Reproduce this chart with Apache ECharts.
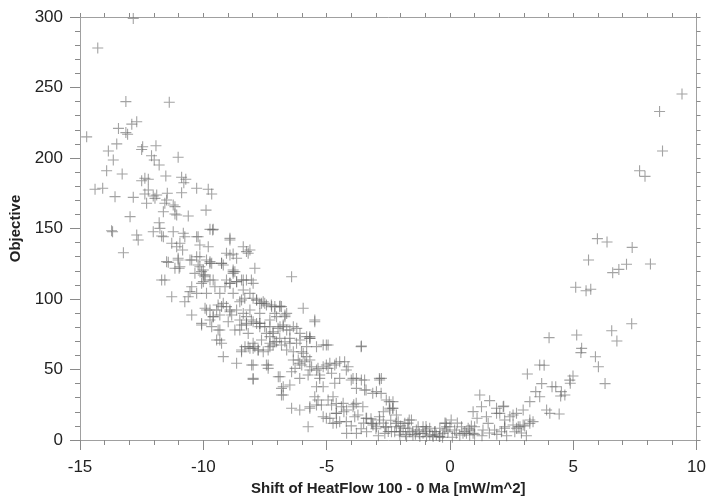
<!DOCTYPE html>
<html>
<head>
<meta charset="utf-8">
<script src="https://cdn.jsdelivr.net/npm/echarts@6/dist/echarts.min.js"></script>
<style>
html, body { margin: 0; padding: 0; background: #fff; }
#chart { width: 709px; height: 501px; }
</style>
</head>
<body>
<div id="chart"></div>
<script>
// axis ranges
var xMin = -15, xMax = 10, xStep = 5;
var yMin = 0, yMax = 300, yStep = 50;

// upper left part of the cloud
var upperLeft = [
    [-12.84, 299], [-14.28, 278], [-13.14, 240], [-11.38, 239.5], [-14.73, 215], [-12.7, 225.7],
    [-12.9, 224], [-13.44, 221], [-13.14, 218], [-13.07, 216.8], [-13.51, 210], [-13.85, 205],
    [-13.65, 198.6], [-12.46, 208], [-12.5, 206], [-11.92, 208.7], [-12.1, 201.6], [-11.99, 198.6],
    [-11.79, 195], [-11.02, 200.5], [-13.92, 191], [-13.29, 188.7], [-12.37, 185.6], [-12.5, 183.9],
    [-12.23, 184.9], [-11.52, 187.2], [-10.88, 186.3], [-10.71, 184.9], [-10.79, 182.5], [-14.39, 177.8],
    [-14.08, 178.5], [-13.58, 172.6], [-12.84, 172.1], [-12.37, 174.5], [-12.23, 177.3], [-12.03, 173],
    [-11.89, 173.8], [-11.96, 171.4], [-12.30, 167.9], [-11.46, 175], [-11.49, 170.2], [-10.88, 175.4],
    [-10.27, 178.5], [-9.80, 177.8], [-9.66, 174.5], [-12.97, 158.4], [-11.79, 154.1], [-11.62, 161.9],
    [-11.15, 165.5], [-11.08, 159.6], [-10.61, 158.9], [-9.89, 163], [-13.68, 147.7], [-12.7, 145.4],
    [-12.03, 147.7], [-11.69, 144.7], [-11.22, 147.7], [-10.81, 146.6], [-10.21, 144.2], [-9.73, 149.4],
    [-9.62, 148.9], [-8.92, 143], [-13.72, 148.4], [-12.64, 141.8], [-13.24, 132.8], [-11.76, 150.1],
    [-11.62, 144.2], [-11.28, 139.5], [-10.95, 139.5], [-10.75, 144.2], [-11.08, 137.1], [-10.84, 134.8],
    [-10.27, 144.2], [-10.14, 138.3], [-9.80, 137.1], [-9.60, 149.4], [-8.92, 141.8], [-9.06, 132.4],
    [-8.79, 131.9], [-8.65, 128.9], [-11.42, 126], [-11.02, 128.9], [-10.98, 121.8], [-10.54, 127.7],
    [-10.27, 130], [-10.14, 122.9], [-9.87, 127.7], [-9.66, 125.3], [-10.34, 118.2], [-10.0, 117],
    [-9.26, 125.3], [-8.79, 119.4], [-11.56, 167.9], [-11.22, 166.7], [-11.15, 160.3]
];

// central band, falling towards the minimum
var band = [
    [-8.38, 137.1], [-8.11, 134.8], [-8.18, 132.4], [-11.49, 126.5], [-11.02, 127.7], [-10.95, 122.9],
    [-11.15, 121.8], [-10.47, 127.7], [-10.21, 124.1], [-9.73, 126.5], [-9.26, 125.3], [-8.79, 120.6],
    [-8.72, 119.4], [-7.91, 121.8], [-11.69, 113.5], [-11.56, 113.5], [-10.07, 119.4], [-9.93, 117],
    [-10.0, 112.3], [-9.73, 113.5], [-10.47, 108.7], [-10.27, 104], [-10.54, 105.2], [-10.61, 101.6],
    [-9.06, 113.5], [-8.92, 111.1], [-8.65, 112.3], [-8.45, 113.5], [-8.25, 113.5], [-8.05, 113.5],
    [-6.42, 115.8], [-11.28, 101.6], [-10.75, 98.1], [-10.47, 88.7], [-10.07, 81.6], [-9.93, 93.4],
    [-9.73, 92.2], [-9.60, 87.5], [-9.73, 85.1], [-9.40, 95.7], [-9.26, 94.6], [-9.06, 94.6],
    [-8.92, 92.2], [-8.85, 88.7], [-8.52, 98.1], [-8.32, 100.5], [-7.98, 100.5], [-7.84, 99.3],
    [-7.71, 96.9], [-7.51, 96.9], [-7.10, 94.6], [-6.89, 95], [-6.62, 89.8], [-5.95, 93.4],
    [-5.48, 85.1], [-9.66, 80.4], [-9.40, 78], [-9.33, 70.9], [-9.26, 68.6], [-8.52, 85.1],
    [-8.45, 81.6], [-8.25, 81.6], [-8.05, 85.1], [-7.84, 82.7], [-7.71, 80.4], [-7.51, 80.4],
    [-7.44, 75.6], [-7.30, 73.3], [-7.17, 76.8], [-6.97, 79.2], [-6.89, 80.4], [-6.76, 80.4],
    [-6.62, 78], [-6.35, 80.4], [-6.21, 79.2], [-6.08, 75.6], [-5.68, 73.3], [-5.41, 66.2],
    [-8.18, 66.2], [-7.98, 68.6], [-7.64, 70.9], [-7.30, 68.6], [-7.03, 69.7], [-6.83, 67.4],
    [-6.49, 68.6], [-6.08, 70.9], [-5.81, 66.2], [-3.59, 66.7], [-8.52, 78], [-8.25, 82.7],
    [-8.18, 75.6], [-7.71, 82.7], [-7.30, 80.4], [-7.17, 75.6], [-6.76, 81.6], [-6.49, 78],
    [-7.10, 89.8], [-6.69, 88.7], [-7.71, 89.8], [-7.24, 95.7], [-6.83, 94.6], [-7.57, 98.1],
    [-8.25, 87.5], [-8.31, 66.2], [-8.11, 65], [-7.91, 66.2], [-7.78, 63.8], [-7.57, 62.6],
    [-7.37, 63.8], [-7.17, 67.4], [-6.62, 63.8], [-6.35, 62.6], [-5.95, 61.5], [-5.68, 72.1],
    [-5.81, 73.3], [-5.14, 67.4], [-4.94, 67.4], [-8.45, 62.6],
    [-10.14, 130.0], [-9.73, 125.3], [-10.00, 120.6], [-9.94, 115.8], [-9.60, 113.5], [-10.07, 111.1],
    [-9.87, 104.0], [-9.53, 108.7], [-9.33, 104.0], [-9.12, 108.7], [-8.92, 111.1], [-8.65, 112.3],
    [-8.79, 104.0], [-8.38, 106.4], [-7.98, 111.1], [-8.11, 104.0], [-8.25, 133.6], [-8.92, 131.2],
    [-9.19, 124.1], [-8.79, 118.2], [-8.38, 113.5], [-8.45, 99.3], [-9.19, 96.9], [-9.46, 92.2],
    [-9.87, 92.2], [-10.07, 82.7], [-9.60, 87.5], [-9.33, 88.7], [-8.92, 91.0], [-8.65, 92.2],
    [-8.38, 89.8], [-8.11, 92.2], [-7.84, 99.3], [-7.64, 96.9], [-7.44, 95.7], [-7.23, 94.6],
    [-6.90, 94.6], [-6.69, 87.5], [-7.03, 87.5], [-7.30, 85.1], [-7.71, 82.7], [-7.98, 83.9],
    [-8.72, 78.0], [-8.99, 83.9], [-9.33, 78.0], [-9.46, 70.9], [-9.19, 59.1], [-8.65, 54.4],
    [-8.45, 63.8], [-7.98, 65.0], [-7.77, 63.8], [-7.30, 66.2], [-7.10, 69.7], [-6.90, 72.1],
    [-6.69, 69.7], [-6.49, 72.1], [-6.22, 68.6], [-5.48, 83.9], [-5.68, 72.1], [-5.01, 67.4],
    [-6.02, 62.6], [-5.81, 59.1], [-6.09, 54.4], [-6.35, 56.7], [-8.04, 53.2], [-7.37, 53.2]
];

// lower part of the band and the trough
var trough = [
    [-7.98, 53.2], [-7.98, 43], [-7.44, 53.2], [-7.37, 50.8], [-6.89, 44.9], [-6.76, 37.8],
    [-6.83, 31.9], [-6.49, 39], [-6.42, 48.4], [-6.28, 50.8], [-6.15, 56.7], [-6.01, 53.2],
    [-5.88, 55.5], [-5.68, 56.7], [-5.61, 52], [-5.75, 46.1], [-5.41, 37.8], [-5.28, 46.1],
    [-5.35, 50.8], [-5.14, 52], [-4.94, 50.8], [-4.87, 54.4], [-4.61, 54.4], [-4.47, 55.5],
    [-4.27, 55.5], [-4.13, 52], [-4.0, 42.6], [-3.79, 43.7], [-3.59, 42.6], [-3.46, 42.6],
    [-3.79, 36.6], [-3.46, 35.5], [-2.98, 34.3], [-2.85, 42.6], [-2.78, 43.7], [-6.42, 22.5],
    [-6.09, 21.3], [-5.68, 22.5], [-5.75, 9.4], [-5.48, 30.7], [-5.35, 28.4], [-5.21, 24.8],
    [-4.94, 28.4], [-4.74, 30.7], [-4.61, 25.9], [-4.40, 23.6], [-4.61, 18.9], [-4.19, 21.3],
    [-3.93, 23.6], [-3.86, 16.5], [-3.73, 17.7], [-3.38, 15.4], [-3.18, 11.8], [-3.12, 10.6],
    [-2.98, 9.4], [-2.85, 14.2], [-2.58, 28.4], [-2.44, 21.3], [-2.31, 22.5], [-2.17, 17.7],
    [-4.19, 4.7], [-3.79, 4.7], [-4.47, 13], [-4.87, 15.4], [-5.14, 16.5], [-2.64, 4.7],
    [-2.24, 5.9], [-3.38, 5.9], [-7.98, 43.7], [-6.96, 44.9], [-6.83, 36.6], [-6.76, 31.9],
    [-6.09, 43.7], [-5.68, 49.6], [-5.41, 49.6], [-5.01, 53.2], [-4.67, 53.2], [-4.80, 47.3],
    [-5.28, 43.7], [-5.14, 37.8], [-4.67, 40.2], [-4.47, 43.7], [-4.20, 49.6], [-3.93, 43.7],
    [-3.60, 66.2], [-2.86, 43.7], [-2.79, 33.1], [-3.40, 35.5], [-3.13, 33.1], [-2.46, 27.2],
    [-2.32, 22.5], [-5.68, 23.6], [-5.41, 24.8], [-4.80, 24.8], [-4.60, 18.9], [-5.01, 15.4],
    [-4.74, 11.8], [-4.20, 13.0], [-4.33, 26.0], [-3.80, 26.0], [-3.53, 23.6], [-3.40, 15.4],
    [-3.13, 11.8], [-2.86, 16.5], [-2.59, 9.5], [-2.19, 11.8], [-2.05, 5.9], [-1.65, 14.2],
    [-1.51, 5.9], [-1.24, 4.7], [-0.70, 3.5], [-0.43, 2.4], [-0.16, 11.8], [-0.97, 9.5],
    [-2.44, 22.5], [-2.31, 27.2], [-1.56, 14.2], [0.05, 14.2], [0.0, 9.4], [0.47, 9.4],
    [0.87, 9.9], [0.74, 8.3], [-2.17, 9.4], [-1.90, 8.3], [-1.63, 5.9], [-1.36, 7.1],
    [-1.09, 4.7], [-0.82, 3.5], [-0.55, 3.5], [-0.28, 4.7], [-0.08, 5.9], [0.26, 4.7],
    [0.53, 4.7], [-2.03, 3.5], [-1.76, 2.4], [-1.50, 3.5], [-1.22, 2.4], [-0.95, 2.4],
    [-0.68, 2.4], [-0.41, 2.4], [-0.21, 7.1], [0.19, 7.1], [0.40, 3.5], [-2.37, 5.9],
    [-2.10, 13], [-1.83, 11.8], [-1.09, 9.4], [-0.82, 8.3], [-0.41, 8.3], [-1.29, 9.4],
    [-0.62, 5.9], [-1.70, 8.3], [-0.95, 7.1], [-0.14, 9.4], [0.80, 3.5], [0.94, 4.7],
    [-3.0, 8], [-2.7, 12], [-2.5, 6], [-3.2, 15], [-2.9, 3], [-2.6, 9], [-2.0, 6], [-1.8, 4],
    [-3.5, 12], [-3.6, 8], [-4.0, 10], [-4.3, 20], [-4.6, 12], [-3.9, 25], [-2.7, 20], [-2.4, 14],
    [-2.0, 10], [-1.7, 12], [-1.4, 4], [-1.0, 6], [-0.6, 6], [-0.3, 2], [0.1, 2], [0.6, 6],
    [0.3, 12], [-0.2, 12], [1.0, 4], [1.3, 3], [1.6, 5], [1.9, 4], [2.3, 3], [2.9, 5], [3.1, 3]
];

// rising right branch
var rightBranch = [
    [9.41, 245.4], [8.5, 233], [8.62, 205], [7.69, 191], [7.91, 187], [5.98, 142.8],
    [6.37, 140.4], [7.39, 136.6], [5.62, 127.7], [8.13, 124.8], [7.16, 124.6], [6.85, 121],
    [6.6, 118.7], [5.10, 108.3], [5.52, 105.9], [5.71, 106.9], [7.37, 82.5], [6.56, 77.5],
    [6.77, 70.2], [4.02, 72.6], [5.14, 74.5], [5.34, 65], [5.31, 62], [5.9, 59],
    [6.02, 52], [6.29, 40], [3.64, 53.2], [3.82, 53], [3.14, 46.8], [3.72, 40],
    [4.14, 37.8], [4.29, 37.8], [4.99, 45.4], [4.86, 42.5], [4.88, 40.2], [3.48, 34.3],
    [3.64, 30.7], [3.24, 27.2], [4.52, 34.3], [4.66, 31.9], [4.49, 31.2], [3.92, 21.3],
    [4.05, 18.9], [4.43, 18.4], [2.97, 21.3], [2.18, 24], [2.56, 17.7], [2.43, 16.5],
    [2.02, 18.9], [2.22, 14.2], [2.22, 9.4], [2.09, 5.9], [3.37, 13], [3.24, 11.8],
    [2.97, 10.6], [2.84, 9.4], [2.70, 8.3], [2.63, 5.9], [1.21, 31.9], [1.61, 27.9],
    [1.28, 23.6], [0.94, 20.1], [1.10, 15.4], [1.48, 16.5], [1.55, 11.8], [1.89, 22.5],
    [2.16, 23.6], [1.89, 18.9], [2.70, 18.9], [2.56, 10.6], [2.77, 9.4], [3.03, 9.9],
    [3.24, 14.2], [2.22, 8.3], [1.81, 7.1], [1.34, 7.1], [1.0, 9.4], [0.80, 7.1], [0.67, 4.7]
];

var allPoints = upperLeft.concat(band, trough, rightBranch);

var plus = 'path://M0,4.5L10,4.5L10,5.5L0,5.5Z M4.5,0L5.5,0L5.5,10L4.5,10Z';
var lineColor = '#a0a0a0';
var tickColor = '#8a8a8a';
var fontFam = 'Liberation Sans, Arial, sans-serif';
var labelFont = { color: '#222', fontSize: 17, fontFamily: fontFam };
var nameFont = { color: '#222', fontSize: 15, fontWeight: 'bold', fontFamily: fontFam };

var chart = echarts.init(document.getElementById('chart'));
var option = {
    animation: false,
    backgroundColor: '#fff',
    grid: { left: 80, right: 12, top: 17, bottom: 61 },
    xAxis: [{
        type: 'value',
        min: xMin, max: xMax, interval: xStep,
        name: 'Shift of HeatFlow 100 - 0 Ma [mW/m^2]',
        nameLocation: 'middle',
        nameGap: 40,
        nameTextStyle: nameFont,
        axisLine: { show: true, onZero: false, lineStyle: { color: lineColor } },
        axisTick: { show: true, length: 10, lineStyle: { color: tickColor } },
        minorTick: { show: true, splitNumber: 5, length: 5, lineStyle: { color: tickColor } },
        axisLabel: Object.assign({ margin: 19 }, labelFont),
        splitLine: { show: false }
    }, {
        type: 'value',
        position: 'top',
        min: xMin, max: xMax, interval: 1,
        axisLine: { show: true, onZero: false, lineStyle: { color: lineColor } },
        axisTick: { show: true, length: 4, lineStyle: { color: tickColor } },
        axisLabel: { show: false },
        splitLine: { show: false }
    }],
    yAxis: [{
        type: 'value',
        min: yMin, max: yMax, interval: yStep,
        name: 'Objective',
        nameLocation: 'middle',
        nameGap: 57,
        nameTextStyle: nameFont,
        axisLine: { show: true, onZero: false, lineStyle: { color: lineColor } },
        axisTick: { show: true, length: 10, lineStyle: { color: tickColor } },
        minorTick: { show: true, splitNumber: 5, length: 5, lineStyle: { color: tickColor } },
        axisLabel: Object.assign({ margin: 17 }, labelFont),
        splitLine: { show: false }
    }, {
        type: 'value',
        position: 'right',
        min: yMin, max: yMax, interval: 10,
        axisLine: { show: true, onZero: false, lineStyle: { color: lineColor } },
        axisTick: { show: true, length: 4, lineStyle: { color: tickColor } },
        axisLabel: { show: false },
        splitLine: { show: false }
    }],
    series: [{
        type: 'scatter',
        xAxisIndex: 0,
        yAxisIndex: 0,
        symbol: plus,
        symbolSize: 11,
        itemStyle: { color: '#666', opacity: 0.6 },
        data: allPoints
    }]
};
chart.setOption(option);
</script>
</body>
</html>
